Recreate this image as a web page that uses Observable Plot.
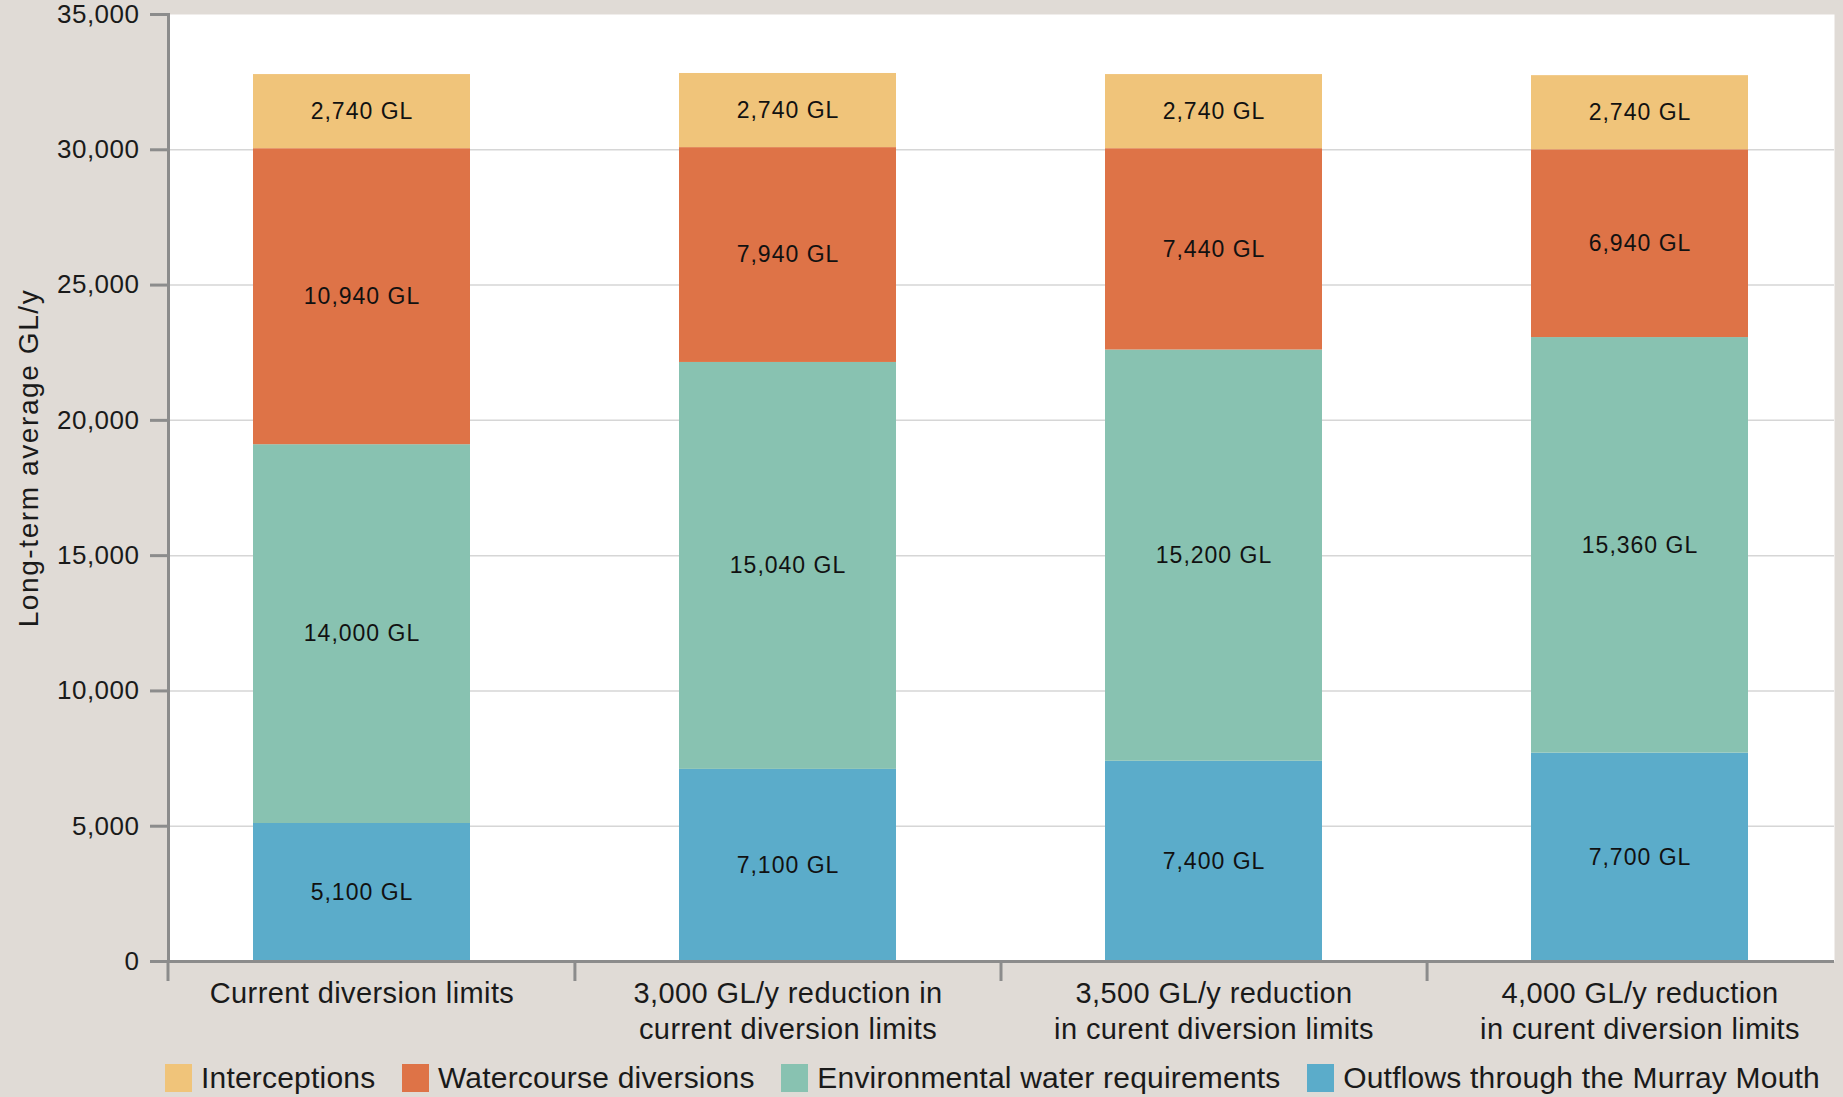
<!DOCTYPE html>
<html><head><meta charset="utf-8">
<script src="https://cdn.jsdelivr.net/npm/d3@7"></script>
<script src="https://cdn.jsdelivr.net/npm/@observablehq/plot@0.6"></script>
<style>
html,body{margin:0;padding:0;background:#e0dbd6;}
body{width:1843px;height:1097px;overflow:hidden;font-family:"Liberation Sans",Arial,sans-serif;color:#1a1a1a;}
#chart svg{display:block;}
#chart svg text{font-family:"Liberation Sans",Arial,sans-serif;}
g[aria-label="y-axis tick label"]{font-size:26px;letter-spacing:0.5px;}
g[aria-label="x-axis tick label"]{font-size:29px;letter-spacing:0.4px;}
#legend{display:flex;justify-content:space-between;align-items:center;margin-left:165px;width:1655px;margin-top:14px;height:28px;}
#legend .item{display:flex;align-items:center;}
#legend .sw{width:27px;height:28px;margin-right:9px;}
#legend .lab{font-size:30px;letter-spacing:0.2px;line-height:28px;white-space:nowrap;}
</style>
</head><body>
<div id="chart"></div>
<div id="legend"></div>
<script>
// ---- data ----
const scenarios = [
  "Current diversion limits",
  "3,000 GL/y reduction in\ncurrent diversion limits",
  "3,500 GL/y reduction\nin curent diversion limits",
  "4,000 GL/y reduction\nin curent diversion limits"
];
const seriesNames = [
  "Outflows through the Murray Mouth",
  "Environmental water requirements",
  "Watercourse diversions",
  "Interceptions"
];
const outflows      = [5100, 7100, 7400, 7700];
const environmental = [14000, 15040, 15200, 15360];
const watercourse   = [10940, 7940, 7440, 6940];
const interceptions = [2740, 2740, 2740, 2740];
const yTicks    = [0, 5000, 10000, 15000, 20000, 25000, 30000, 35000];
const gridTicks = [5000, 10000, 15000, 20000, 25000, 30000];
const seriesColors = ["#5bacca", "#88c2b1", "#de7347", "#f0c47a"];
const legendOrder = ["Interceptions", "Watercourse diversions", "Environmental water requirements", "Outflows through the Murray Mouth"];
const yTitle = "Long-term average GL/y";

// ---- table ----
const seriesValues = [outflows, environmental, watercourse, interceptions];
const rows = [];
scenarios.forEach((s, i) => {
  seriesNames.forEach((n, j) => rows.push({scenario: s, series: n, value: seriesValues[j][i]}));
});
const fmt = d3.format(",");

const W = 1843, H = 1050, axisY0 = 961;
const axisColor = "#8c8c8c";
const FONT = '"Liberation Sans",Arial,sans-serif';

const chart = Plot.plot({
  width: W, height: H,
  marginLeft: 168, marginRight: 9, marginTop: 14, marginBottom: H - axisY0,
  style: {background: "transparent", fontFamily: FONT, color: "#1a1a1a"},
  x: {domain: scenarios, paddingInner: 0.49, paddingOuter: 0.2, label: null},
  y: {domain: [0, 35000], label: null},
  color: {domain: seriesNames, range: seriesColors},
  marks: [
    Plot.frame({fill: "white", stroke: "none"}),
    Plot.gridY(gridTicks, {stroke: "#d6d6d6", strokeOpacity: 1, strokeWidth: 1.5}),
    Plot.barY(rows, {x: "scenario", y: "value", fill: "series", z: "series"}),
    Plot.text(rows, Plot.stackY({x: "scenario", y: "value", z: "series", text: d => fmt(d.value) + " GL", fontSize: 23, fill: "#111"})),
    Plot.axisY({ticks: yTicks, tickFormat: d => fmt(d), tickSize: 18, tickPadding: 11, stroke: axisColor, strokeWidth: 3, fill: "#1a1a1a", label: null}),
    Plot.axisX({tickSize: 0, tickPadding: 16, lineHeight: 1.24, fill: "#1a1a1a", label: null}),
    Plot.ruleY([0], {stroke: axisColor, strokeWidth: 3, insetLeft: -18}),
    Plot.frame({anchor: "left", stroke: axisColor, strokeWidth: 3}),
    Plot.text([yTitle], {frameAnchor: "left", rotate: -90, dx: -131, dy: -30, lineAnchor: "bottom", textAnchor: "middle", fontSize: 28, fill: "#1a1a1a"})
  ]
});
document.getElementById("chart").appendChild(chart);

// category boundary ticks below the x axis, from the plot's own scales
const xs = chart.scale("x"), ys = chart.scale("y");
const band = d3.scaleBand(xs.domain, xs.range).paddingInner(xs.paddingInner).paddingOuter(xs.paddingOuter).align(xs.align ?? 0.5);
const y0 = ys.apply(0);
const bx = scenarios.map((d, i) => i === 0 ? xs.range[0] : band(d) - (band.step() - band.bandwidth()) / 2);
d3.select(chart).append("g").attr("aria-label", "x-category-ticks")
  .selectAll("line").data(bx).join("line")
  .attr("x1", d => d).attr("x2", d => d)
  .attr("y1", y0).attr("y2", y0 + 20)
  .attr("stroke", axisColor).attr("stroke-width", 3);
d3.select(chart).selectAll("g[aria-label='text'] text").style("letter-spacing", "1px");
d3.select(chart).selectAll("g[aria-label='text']").filter((d, i, n) => n[i].textContent === yTitle).selectAll("text").style("letter-spacing", "1.6px");

// legend
const legend = d3.select("#legend");
legendOrder.forEach(name => {
  const it = legend.append("div").attr("class", "item");
  it.append("div").attr("class", "sw").style("background", seriesColors[seriesNames.indexOf(name)]);
  it.append("div").attr("class", "lab").text(name);
});
</script>
</body></html>
